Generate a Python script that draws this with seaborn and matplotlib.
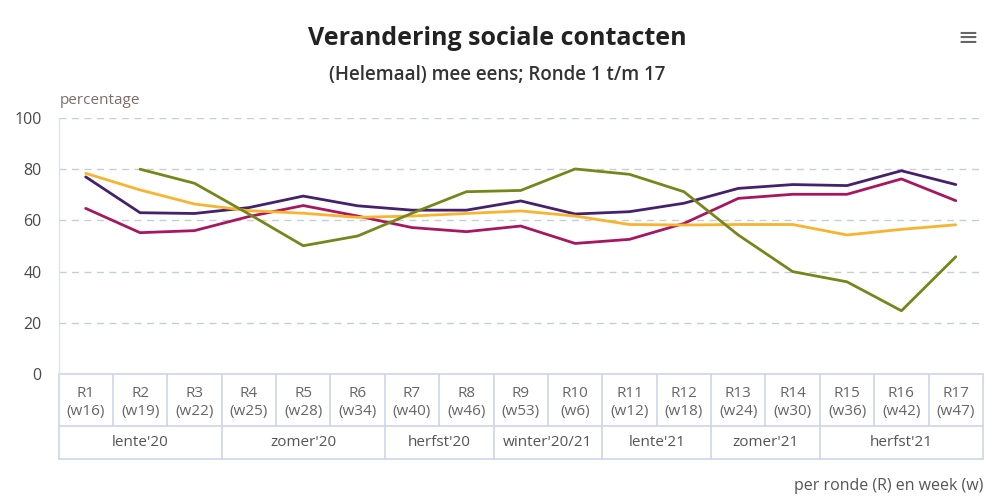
import numpy as np
import pandas as pd
import matplotlib
matplotlib.use("Agg")
import matplotlib.pyplot as plt
import matplotlib.transforms as mtransforms
import seaborn as sns

# ---- data ----
rondes = ["R1", "R2", "R3", "R4", "R5", "R6", "R7", "R8", "R9", "R10",
          "R11", "R12", "R13", "R14", "R15", "R16", "R17"]
weken = ["(w16)", "(w19)", "(w22)", "(w25)", "(w28)", "(w34)", "(w40)", "(w46)", "(w53)",
         "(w6)", "(w12)", "(w18)", "(w24)", "(w30)", "(w36)", "(w42)", "(w47)"]
seizoenen = ["lente'20", "zomer'20", "herfst'20", "winter'20/21", "lente'21", "zomer'21", "herfst'21"]
seizoen_rondes = [3, 3, 2, 2, 2, 2, 3]

reeks_paars = [77, 63, 62.7, 65, 69.5, 65.7, 64, 64, 67.6, 62.5, 63.4, 66.7, 72.5, 74, 73.6, 79.4, 74]
reeks_magenta = [64.7, 55.2, 56, 61.5, 65.8, 61.7, 57.2, 55.6, 57.8, 51, 52.6, 58.8, 68.6, 70.2, 70.2, 76.2, 67.7]
reeks_geel = [78.4, 71.9, 66.4, 63.8, 62.8, 61.2, 61.7, 62.7, 63.7, 61.7, 58.4, 58.2, 58.4, 58.4, 54.3, 56.5, 58.3]
reeks_groen = [np.nan, 80, 74.5, 62.5, 50.1, 53.9, 62.8, 71.2, 71.7, 80.1, 78, 71.2, 54.3, 40, 36, 24.7, 45.8]

series = {"paars": reeks_paars, "magenta": reeks_magenta, "geel": reeks_geel, "groen": reeks_groen}
palette = {"paars": "#45206b", "magenta": "#a8165f", "geel": "#f8b42e", "groen": "#76861a"}

rows = []
for name, vals in series.items():
    for i, v in enumerate(vals):
        rows.append({"x": i, "waarde": v, "reeks": name})
df = pd.DataFrame(rows).dropna()

# ---- figure ----
sns.set_theme(style="white")
plt.rcParams["font.family"] = ["Open Sans", "DejaVu Sans"]

W, H = 985, 498
fig = plt.figure(figsize=(W / 100, H / 100), dpi=100)
left, right, top, bottom = 58.5, 983, 118, 374
ax = fig.add_axes([left / W, 1 - bottom / H, (right - left) / W, (bottom - top) / H])

sns.lineplot(data=df, x="x", y="waarde", hue="reeks", palette=palette,
             linewidth=2.0, legend=False, ax=ax, sort=True)

n = len(rondes)
ax.set_xlim(-0.5, n - 0.5)
ax.set_ylim(0, 100)
ax.set_yticks([0, 20, 40, 60, 80, 100])
ax.set_yticklabels(["0", "20", "40", "60", "80", "100"], color="#4a4a4a", fontsize=11.5)
ax.tick_params(axis="y", length=0, pad=12)
ax.set_xticks([])
ax.set_xlabel("")
ax.set_ylabel("")
for s in ["top", "right", "bottom"]:
    ax.spines[s].set_visible(False)
ax.spines["left"].set_color("#dde3ee")
ax.spines["left"].set_linewidth(1)
for yv in [20, 40, 60, 80, 100]:
    ax.axhline(yv, color="#c5cdd9", linewidth=1, linestyle=(0, (5, 4)), zorder=0)

# ---- grouped category table below axis ----
trans = mtransforms.blended_transform_factory(ax.transData, fig.transFigure)
def fy(px):
    return 1 - px / H

line_col = "#ccd6eb"
y_top, y_mid, y_bot = fy(374), fy(426), fy(459)
x0, x1 = -0.5, n - 0.5
kw = dict(transform=trans, color=line_col, linewidth=1.2, clip_on=False)
ax.plot([x0, x1], [y_top, y_top], **kw)
ax.plot([x0, x1], [y_mid, y_mid], **kw)
ax.plot([x0, x1], [y_bot, y_bot], **kw)
for i in range(n + 1):
    ax.plot([i - 0.5, i - 0.5], [y_top, y_mid], **kw)
pos = 0
for name, cnt in zip(seizoenen, seizoen_rondes):
    ax.plot([pos - 0.5, pos - 0.5], [y_mid, y_bot], **kw)
    ax.text(pos + (cnt - 1) / 2, fy(443), name, transform=trans, ha="center", va="center",
            fontsize=11, color="#555555")
    pos += cnt
ax.plot([pos - 0.5, pos - 0.5], [y_mid, y_bot], **kw)
for i, (r, w) in enumerate(zip(rondes, weken)):
    ax.text(i, fy(393), r, transform=trans, ha="center", va="center", fontsize=11, color="#666666")
    ax.text(i, fy(411), w, transform=trans, ha="center", va="center", fontsize=11, color="#666666")

# ---- texts ----
fig.text(497 / W, fy(38), "Verandering sociale contacten", ha="center", va="center",
         fontsize=18, fontweight="bold", color="#222222")
fig.text(497 / W, fy(75), "(Helemaal) mee eens; Ronde 1 t/m 17", ha="center", va="center",
         fontsize=13.5, fontweight="semibold", color="#333333")
fig.text(60 / W, fy(100), "percentage", ha="left", va="center", fontsize=11, color="#7d6e66")
fig.text(983 / W, fy(486), "per ronde (R) en week (w)", ha="right", va="center",
         fontsize=11.5, color="#555555")
fig.text(968 / W, fy(38), "\u2261", ha="center", va="center", fontsize=18, color="#666666",
         family=["DejaVu Sans"])

fig.savefig("out.png", dpi=100, facecolor="white")
